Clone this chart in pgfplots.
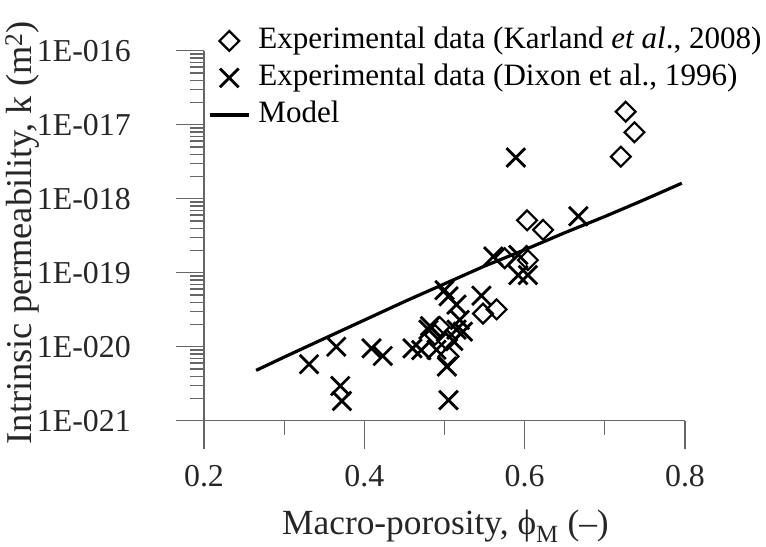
\documentclass[border=0pt]{standalone}
\usepackage{fontspec}
\setmainfont{Liberation Serif}
\usepackage{pgfplots}
\pgfplotsset{compat=1.18}
\pgfplotsset{
 legmark/.style={legend image code/.code={\path[draw=none,fill=none] (0bp,0bp) -- (39bp,0bp); \draw[##1] plot coordinates {(19.5bp,0bp)};}},
 legline/.style={legend image code/.code={\draw[##1] (0bp,0bp) -- (39bp,0bp);}},
}
\begin{document}
\begin{tikzpicture}
\begin{axis}[
 name=ax,
 scale only axis,
 width=481bp, height=370bp,
 xmin=0.2, xmax=0.8, ymin=1e-21, ymax=1e-16,
 ymode=log,
 axis lines*=left,
 axis line style={black!60, line width=1.3bp},
 tick align=outside,
 major tick length=28bp, minor tick length=14bp,
 every tick/.style={black!60, line width=1.3bp},
 xtick={0.2,0.4,0.6,0.8}, xticklabels={0.2,0.4,0.6,0.8},
 minor xtick={0.3,0.5,0.7},
 ytick={1e-21,1e-20,1e-19,1e-18,1e-17,1e-16},
 yticklabels={1E-021,1E-020,1E-019,1E-018,1E-017,1E-016},
 minor ytick={2e-21,3e-21,4e-21,5e-21,6e-21,7e-21,8e-21,9e-21,
   2e-20,3e-20,4e-20,5e-20,6e-20,7e-20,8e-20,9e-20,
   2e-19,3e-19,4e-19,5e-19,6e-19,7e-19,8e-19,9e-19,
   2e-18,3e-18,4e-18,5e-18,6e-18,7e-18,8e-18,9e-18,
   2e-17,3e-17,4e-17,5e-17,6e-17,7e-17,8e-17,9e-17},
 tick label style={font=\fontsize{32}{36}\selectfont, text=black!85, inner sep=0pt},
 xticklabel style={anchor=base, yshift=-37.5bp},
 yticklabel style={anchor=east, xshift=-45bp},
 xlabel={Macro-porosity, ϕ\textsubscript{M} (–)},
 ylabel={Intrinsic permeability, k (m\textsuperscript{2})},
 every axis x label/.style={at={(axis description cs:0.502,-0.308)}, anchor=base, inner sep=0pt, font=\fontsize{35.5}{40}\selectfont, text=black!85},
 every axis y label/.style={at={(axis description cs:-0.378,0.508)}, anchor=center, inner sep=0pt, rotate=90, font=\fontsize{36.5}{40}\selectfont, text=black!85},
 clip=false,
 legend cell align=left,
 legend style={at={(axis description cs:0,1)}, anchor=north west, xshift=4bp, yshift=24.5bp,
   draw=none, fill=none, inner sep=0pt, row sep=8bp, column sep=8bp,
   font=\fontsize{31.2}{34}\selectfont,
   nodes={inner sep=0pt, text height=22bp, text depth=7bp}},
]
\addplot[only marks, mark=square, mark size=7bp, mark options={rotate=45, line width=2.2bp, fill=none}, black, legmark]
coordinates {
(0.726,1.5e-17) (0.737,7.9e-18) (0.720,3.7e-18) (0.603,5.1e-19) (0.623,3.8e-19)
(0.575,1.57e-19) (0.604,1.48e-19) (0.548,2.8e-20) (0.565,3.2e-20) (0.494,1.85e-20)
(0.488,1.45e-20) (0.503,1.23e-20) (0.505,7.4e-21)
};
\addlegendentry{Experimental data (Karland \textit{et al}., 2008)}
\addplot[only marks, mark=x, mark size=13.2bp, mark options={line width=2.8bp}, black, legmark]
coordinates {
(0.331,5.8e-21) (0.365,1.0e-20) (0.370,2.95e-21) (0.372,1.85e-21) (0.409,9.5e-21)
(0.423,7.5e-21) (0.460,9.5e-21) (0.471,9.0e-21) (0.480,1.7e-20) (0.482,1.9e-20)
(0.490,9.1e-21) (0.500,5.8e-20) (0.505,4.8e-20) (0.515,3.7e-20) (0.519,2.3e-20)
(0.515,1.7e-20) (0.523,1.6e-20) (0.511,1.2e-20) (0.503,5.4e-21) (0.505,1.9e-21)
(0.546,4.9e-20) (0.561,1.66e-19) (0.592,1.74e-19) (0.592,9.3e-20) (0.604,9.3e-20)
(0.667,5.8e-19) (0.589,3.6e-18)
};
\addlegendentry{Experimental data (Dixon et al., 1996)}
\addplot[black, line width=3.2bp, no marks, legline]
coordinates {
(0.265,4.79e-21) (0.30,7.24e-21) (0.35,1.29e-20) (0.40,2.29e-20) (0.45,4.07e-20)
(0.50,7.08e-20) (0.55,1.23e-19) (0.60,2.04e-19) (0.65,3.47e-19) (0.70,5.75e-19)
(0.75,9.77e-19) (0.796,1.62e-18)
};
\addlegendentry{Model}
\end{axis}
\pgfresetboundingbox
\path[use as bounding box] ([shift={(-204bp,-126.3bp)}]ax.south west) rectangle ([shift={(562bp,420.7bp)}]ax.south west);
\end{tikzpicture}
\end{document}
